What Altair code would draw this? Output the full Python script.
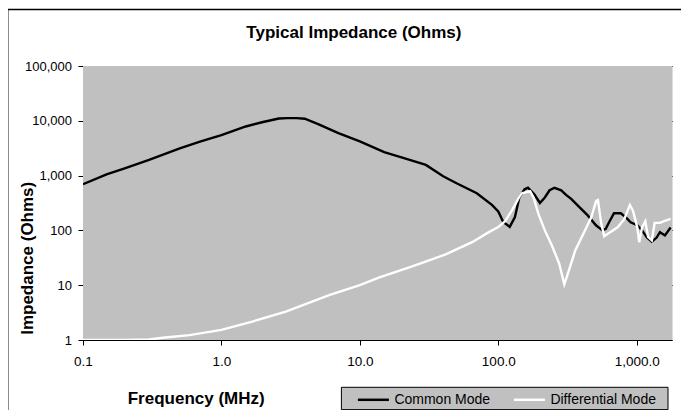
import altair as alt
import pandas as pd

# ---- data ----
series_names = ["Common Mode", "Differential Mode"]
series_colors = ["#000000", "#ffffff"]

cm_freq = [0.1, 0.148, 0.2, 0.3, 0.5, 0.7, 1.0, 1.5, 2.0, 2.6, 3.0, 3.5, 4.0, 5.0, 7.0,
           10, 15, 20, 30, 40, 50, 70, 90, 100, 108.7, 121, 132, 142, 155, 164, 182,
           200, 217, 235, 255, 285, 309, 338, 376, 443, 508, 566, 598, 632, 686, 767,
           833, 904, 1009, 1095, 1186, 1287, 1395, 1473, 1600, 1760]
cm_z = [695, 1050, 1360, 1930, 3130, 4150, 5500, 7880, 9500, 11000, 11200, 11200, 10900,
        8680, 5950, 4200, 2690, 2150, 1565, 970, 724, 477, 293, 221, 142, 116, 175, 398,
        562, 600, 458, 316, 398, 540, 600, 540, 445, 372, 283, 188, 124, 100, 107, 141,
        206, 206, 175, 141, 124, 100, 74, 62, 74, 93, 81, 113]

dm_freq = [0.1, 0.2, 0.3, 0.377, 0.588, 1.0, 1.67, 2.92, 6.0, 10, 13.7, 23.9, 41.7, 64.8,
           85.5, 100, 112, 125, 141, 148, 170, 180, 195, 217, 244, 276, 300, 324, 360,
           423, 470, 510, 525, 555, 583, 644, 732, 815, 893, 940, 1009, 1044, 1095, 1155,
           1209, 1287, 1350, 1473, 1600, 1760]
dm_z = [1.0, 1.0, 1.02, 1.1, 1.23, 1.53, 2.17, 3.3, 6.6, 10, 13.8, 22, 36.4, 61, 93, 115,
        147, 228, 396, 475, 522, 396, 200, 100, 53, 24.6, 10.3, 18.6, 43, 100, 173, 345,
        357, 132, 78, 93, 115, 162, 289, 228, 115, 61, 115, 147, 76, 66, 137, 137, 150, 162]

x_ticks = [0.1, 1, 10, 100, 1000]
y_ticks = [1, 10, 100, 1000, 10000, 100000]
x_domain = [0.1, 1800]
y_domain = [1, 100000]

df = pd.concat([
    pd.DataFrame({"freq": cm_freq, "z": cm_z, "series": series_names[0],
                  "idx": list(range(len(cm_freq)))}),
    pd.DataFrame({"freq": dm_freq, "z": dm_z, "series": series_names[1],
                  "idx": list(range(len(dm_freq)))}),
], ignore_index=True)

W, H = 589, 274
PAD = {"left": 75, "top": 58, "right": 9, "bottom": 70}
FONT = "Liberation Sans"
GRAY = "#c0c0c0"

x_enc = alt.X("freq:Q",
              scale=alt.Scale(type="log", domain=x_domain, nice=False),
              axis=alt.Axis(values=x_ticks, format=",.1f", title="Frequency (MHz)",
                            grid=True, gridColor="#000000", gridWidth=1,
                            domainColor="#000000", tickColor="#000000", tickSize=5,
                            labelFont=FONT, labelFontSize=13.5, labelColor="#000000",
                            labelPadding=9, labelFlush=False, labelOverlap=False,
                            titleFont=FONT, titleFontSize=17, titleFontWeight="bold",
                            titleColor="#000000", titleX=112.7, titleY=58,
                            titleAlign="center", titleBaseline="middle"))
y_enc = alt.Y("z:Q",
              scale=alt.Scale(type="log", domain=y_domain, nice=False),
              axis=alt.Axis(values=y_ticks, format=",d", title="Impedance (Ohms)",
                            grid=True, gridColor="#000000", gridWidth=1,
                            domainColor="#000000", tickColor="#000000", tickSize=5,
                            labelFont=FONT, labelFontSize=13, labelColor="#000000",
                            labelPadding=6.5, labelOverlap=False, labelFlush=False,
                            titleFont=FONT, titleFontSize=17, titleFontWeight="bold",
                            titleColor="#000000", titleX=-55.8, titleY=191.8,
                            titleAngle=270, titleAlign="center", titleBaseline="middle"))

one = pd.DataFrame({"k": [0]})

plot_bg = alt.Chart(one).mark_rect(fill=GRAY, strokeWidth=0).encode(
    x=alt.value(0), x2=alt.value(W), y=alt.value(0), y2=alt.value(H))

lines = alt.Chart(df).mark_line(clip=True, strokeWidth=2.4).encode(
    x=x_enc,
    y=y_enc,
    color=alt.Color("series:N",
                    scale=alt.Scale(domain=series_names, range=series_colors),
                    legend=alt.Legend(orient="none", legendX=273.4, legendY=316.8,
                                      direction="horizontal", columns=2, title=None,
                                      symbolType="stroke", symbolSize=961,
                                      symbolStrokeWidth=2.5, labelFont=FONT,
                                      labelFontSize=14, labelColor="#000000",
                                      labelOffset=4, columnPadding=18,
                                      gridAlign="each", padding=0)),
    order="idx:Q",
)

frame_left = alt.Chart(one).mark_rule(color="#000000", strokeWidth=1.5).encode(
    x=alt.value(-75.3), y=alt.value(-56.5), y2=alt.value(H + PAD["bottom"]))
frame_top = alt.Chart(one).mark_rule(color="#000000", strokeWidth=1.5).encode(
    x=alt.value(-75.3), x2=alt.value(W + PAD["right"]), y=alt.value(-56.5))

legend_box = alt.Chart(one).mark_rect(fill=GRAY, stroke="#000000", strokeWidth=1).encode(
    x=alt.value(258.4), x2=alt.value(585.0), y=alt.value(321.3), y2=alt.value(343.6))

chart = alt.layer(plot_bg, frame_left, frame_top, legend_box, lines).properties(
    width=W, height=H,
    autosize=alt.AutoSizeParams(type="none"),
    padding=PAD,
    title=alt.Title("Typical Impedance (Ohms)", font=FONT, fontSize=17,
                    fontWeight="bold", color="#000000", anchor="middle",
                    dx=-23.6, offset=-46, baseline="alphabetic"),
).configure_view(stroke="transparent").configure(background="#ffffff")

chart.save("out.html", embed_options={"renderer": "svg", "actions": False})
